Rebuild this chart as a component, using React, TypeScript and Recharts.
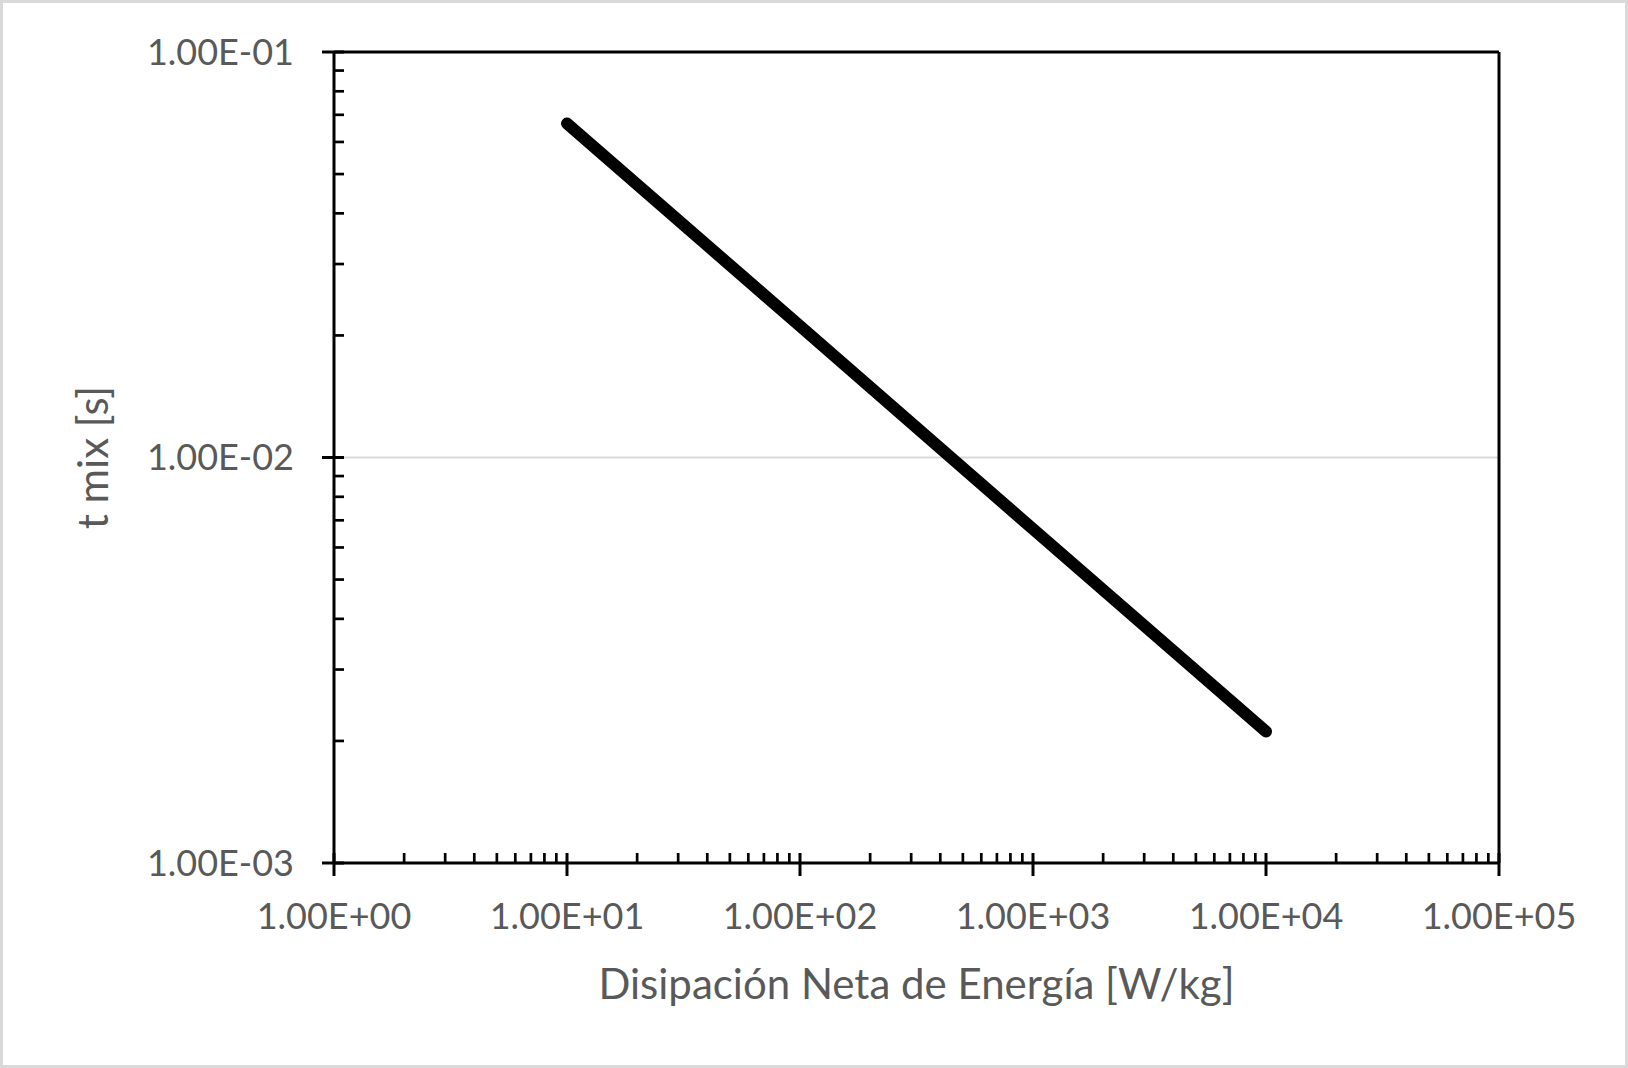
import React from 'react';
import { LineChart, Line, XAxis, YAxis, ReferenceLine, Label } from 'recharts';

// Net energy dissipation [W/kg]
const dissipation = [10, 100, 1000, 10000];
// Mixing time [s]
const tMix = [0.0666, 0.0211, 0.00666, 0.00211];

const xMajorTicks = [1, 10, 100, 1000, 10000, 100000];
const xTickLabels = ['1.00E+00', '1.00E+01', '1.00E+02', '1.00E+03', '1.00E+04', '1.00E+05'];
const xMinorTicks = [
  2, 3, 4, 5, 6, 7, 8, 9,
  20, 30, 40, 50, 60, 70, 80, 90,
  200, 300, 400, 500, 600, 700, 800, 900,
  2000, 3000, 4000, 5000, 6000, 7000, 8000, 9000,
  20000, 30000, 40000, 50000, 60000, 70000, 80000, 90000,
];

const yMajorTicks = [0.001, 0.01, 0.1];
const yTickLabels = ['1.00E-03', '1.00E-02', '1.00E-01'];
const yMinorTicks = [
  0.002, 0.003, 0.004, 0.005, 0.006, 0.007, 0.008, 0.009,
  0.02, 0.03, 0.04, 0.05, 0.06, 0.07, 0.08, 0.09,
];

const xTitle = 'Disipación Neta de Energía [W/kg]';
const yTitle = 't mix [s]';

const data = dissipation.map((x, i) => ({ x, y: tMix[i] }));

const FONT = 'Lato, "Open Sans", sans-serif';
const TEXT = '#595959';
const FS = 36;
const TFS = 42;

const near = (a: number, b: number) => Math.abs(a - b) / b < 1e-6;

const XTick = (props: any) => {
  const { x, y, payload } = props;
  const v = payload.value;
  const idx = xMajorTicks.findIndex((m) => near(v, m));
  if (idx >= 0) {
    return (
      <g>
        <line x1={x} x2={x} y1={y - 10} y2={y + 13} stroke="#000" strokeWidth={3} />
        <text x={x} y={y + 53} dy="0.35em" textAnchor="middle" fill={TEXT} fontSize={FS} fontFamily={FONT}>
          {xTickLabels[idx]}
        </text>
      </g>
    );
  }
  return <line x1={x} x2={x} y1={y} y2={y - 10} stroke="#000" strokeWidth={2.7} />;
};

const YTick = (props: any) => {
  const { x, y, payload } = props;
  const v = payload.value;
  const idx = yMajorTicks.findIndex((m) => near(v, m));
  if (idx >= 0) {
    return (
      <g>
        <line x1={x - 12} x2={x + 10} y1={y} y2={y} stroke="#000" strokeWidth={3} />
        <text x={x - 40} y={y} dy="0.35em" textAnchor="end" fill={TEXT} fontSize={FS} fontFamily={FONT}>
          {yTickLabels[idx]}
        </text>
      </g>
    );
  }
  return <line x1={x} x2={x + 10} y1={y} y2={y} stroke="#000" strokeWidth={2.7} />;
};

export default function App() {
  return (
    <div style={{ position: 'absolute', left: 0, top: 0, width: 1628, height: 1068, background: '#fff' }}>
      <LineChart
        width={1628}
        height={1068}
        data={data}
        margin={{ top: 52, right: 129, left: 0, bottom: 0 }}
      >
        <XAxis
          dataKey="x"
          type="number"
          scale="log"
          domain={[1, 100000]}
          allowDataOverflow
          ticks={[...xMajorTicks, ...xMinorTicks]}
          interval={0}
          tick={<XTick />}
          tickLine={false}
          tickSize={0}
          tickMargin={0}
          height={205}
          axisLine={{ stroke: '#000', strokeWidth: 3 }}
        >
          <Label
            content={(p: any) => {
              const vb = p.viewBox;
              return (
                <text
                  x={vb.x + vb.width / 2}
                  y={vb.y + 121}
                  dy="0.35em"
                  textAnchor="middle"
                  fill={TEXT}
                  fontSize={TFS}
                  fontFamily={FONT}
                >
                  {xTitle}
                </text>
              );
            }}
          />
        </XAxis>
        <YAxis
          dataKey="y"
          type="number"
          scale="log"
          domain={[0.001, 0.1]}
          allowDataOverflow
          ticks={[...yMajorTicks, ...yMinorTicks]}
          interval={0}
          tick={<YTick />}
          tickLine={false}
          tickSize={0}
          tickMargin={0}
          width={334}
          axisLine={{ stroke: '#000', strokeWidth: 3 }}
        >
          <Label
            content={(p: any) => {
              const vb = p.viewBox;
              const cx = 93;
              const cy = vb.y + vb.height / 2;
              return (
                <text
                  x={cx}
                  y={cy}
                  dy="0.35em"
                  textAnchor="middle"
                  transform={`rotate(-90 ${cx} ${cy})`}
                  fill={TEXT}
                  fontSize={TFS}
                  fontFamily={FONT}
                >
                  {yTitle}
                </text>
              );
            }}
          />
        </YAxis>
        <ReferenceLine y={0.01} stroke="#d9d9d9" strokeWidth={2} />
        <ReferenceLine y={0.1} stroke="#000" strokeWidth={3} />
        <ReferenceLine x={100000} stroke="#000" strokeWidth={3} />
        <Line
          type="linear"
          dataKey="y"
          stroke="#000"
          strokeWidth={12}
          strokeLinecap="round"
          dot={false}
          activeDot={false}
          isAnimationActive={false}
        />
      </LineChart>
      <div
        style={{
          position: 'absolute',
          left: 0,
          top: 0,
          width: 1628,
          height: 1068,
          boxSizing: 'border-box',
          border: '3px solid #d9d9d9',
          pointerEvents: 'none',
        }}
      />
    </div>
  );
}
